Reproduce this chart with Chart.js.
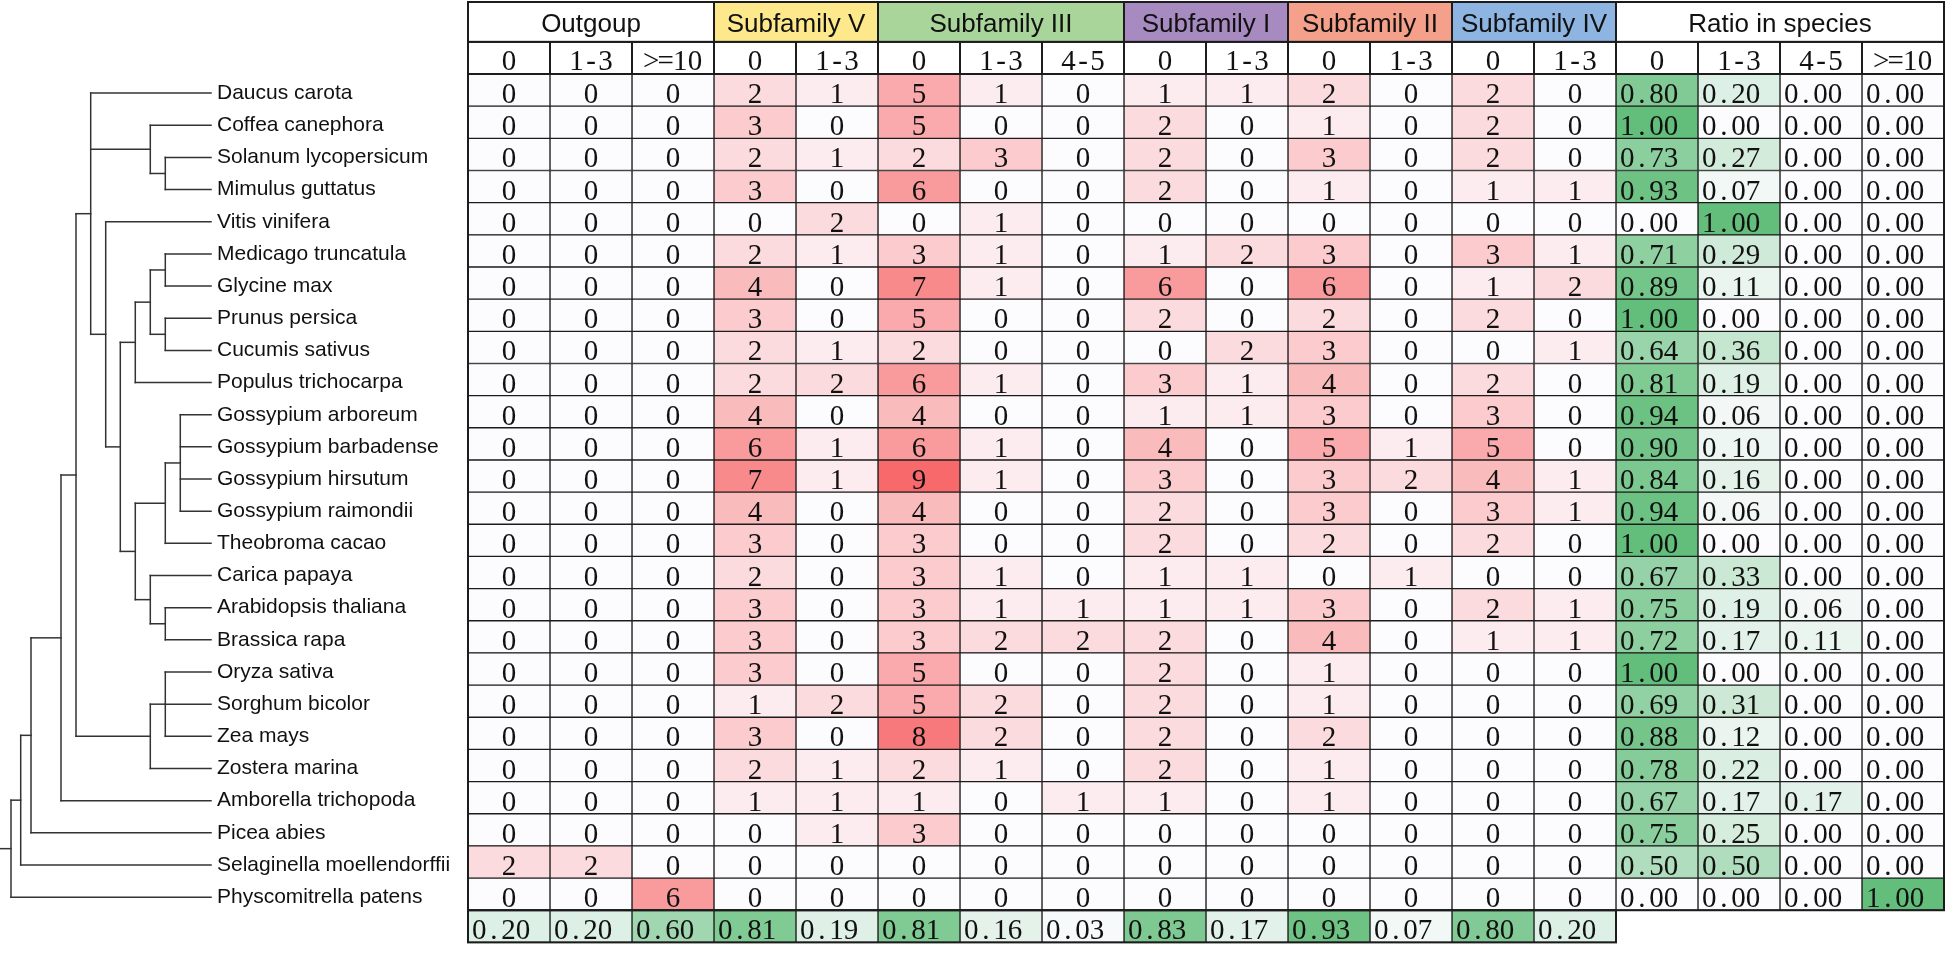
<!DOCTYPE html>
<html>
<head>
<meta charset="utf-8">
<style>
html,body{margin:0;padding:0;background:#ffffff;}
#wrap{position:relative;width:1946px;height:958px;}
</style>
<script src="https://cdn.jsdelivr.net/npm/chart.js@4.4.1/dist/chart.umd.min.js"></script>
</head>
<body>
<div id="wrap"><canvas id="chart"></canvas></div>
<script>
// ---------------- DATA ----------------
const speciesNames = [
  'Daucus carota','Coffea canephora','Solanum lycopersicum','Mimulus guttatus','Vitis vinifera',
  'Medicago truncatula','Glycine max','Prunus persica','Cucumis sativus','Populus trichocarpa',
  'Gossypium arboreum','Gossypium barbadense','Gossypium hirsutum','Gossypium raimondii','Theobroma cacao',
  'Carica papaya','Arabidopsis thaliana','Brassica rapa','Oryza sativa','Sorghum bicolor',
  'Zea mays','Zostera marina','Amborella trichopoda','Picea abies','Selaginella moellendorffii',
  'Physcomitrella patens'
];
const groupNames = ['Outgoup','Subfamily V','Subfamily III','Subfamily I','Subfamily II','Subfamily IV','Ratio in species'];
const groupSpans = [3,2,3,2,2,2,4];
const columnLabels = ['0','1-3','>=10','0','1-3','0','1-3','4-5','0','1-3','0','1-3','0','1-3','0','1-3','4-5','>=10'];

const outgroup_0    = [0,0,0,0,0,0,0,0,0,0,0,0,0,0,0,0,0,0,0,0,0,0,0,0,2,0];
const outgroup_1_3  = [0,0,0,0,0,0,0,0,0,0,0,0,0,0,0,0,0,0,0,0,0,0,0,0,2,0];
const outgroup_ge10 = [0,0,0,0,0,0,0,0,0,0,0,0,0,0,0,0,0,0,0,0,0,0,0,0,0,6];
const subV_0        = [2,3,2,3,0,2,4,3,2,2,4,6,7,4,3,2,3,3,3,1,3,2,1,0,0,0];
const subV_1_3      = [1,0,1,0,2,1,0,0,1,2,0,1,1,0,0,0,0,0,0,2,0,1,1,1,0,0];
const subIII_0      = [5,5,2,6,0,3,7,5,2,6,4,6,9,4,3,3,3,3,5,5,8,2,1,3,0,0];
const subIII_1_3    = [1,0,3,0,1,1,1,0,0,1,0,1,1,0,0,1,1,2,0,2,2,1,0,0,0,0];
const subIII_4_5    = [0,0,0,0,0,0,0,0,0,0,0,0,0,0,0,0,1,2,0,0,0,0,1,0,0,0];
const subI_0        = [1,2,2,2,0,1,6,2,0,3,1,4,3,2,2,1,1,2,2,2,2,2,1,0,0,0];
const subI_1_3      = [1,0,0,0,0,2,0,0,2,1,1,0,0,0,0,1,1,0,0,0,0,0,0,0,0,0];
const subII_0       = [2,1,3,1,0,3,6,2,3,4,3,5,3,3,2,0,3,4,1,1,2,1,1,0,0,0];
const subII_1_3     = [0,0,0,0,0,0,0,0,0,0,0,1,2,0,0,1,0,0,0,0,0,0,0,0,0,0];
const subIV_0       = [2,2,2,1,0,3,1,2,0,2,3,5,4,3,2,0,2,1,0,0,0,0,0,0,0,0];
const subIV_1_3     = [0,0,0,1,0,1,2,0,1,0,0,0,1,1,0,0,1,1,0,0,0,0,0,0,0,0];

const ratio_0    = [0.80,1.00,0.73,0.93,0.00,0.71,0.89,1.00,0.64,0.81,0.94,0.90,0.84,0.94,1.00,0.67,0.75,0.72,1.00,0.69,0.88,0.78,0.67,0.75,0.50,0.00];
const ratio_1_3  = [0.20,0.00,0.27,0.07,1.00,0.29,0.11,0.00,0.36,0.19,0.06,0.10,0.16,0.06,0.00,0.33,0.19,0.17,0.00,0.31,0.12,0.22,0.17,0.25,0.50,0.00];
const ratio_4_5  = [0,0,0,0,0,0,0,0,0,0,0,0,0,0,0,0,0.06,0.11,0,0,0,0,0.17,0,0,0];
const ratio_ge10 = [0,0,0,0,0,0,0,0,0,0,0,0,0,0,0,0,0,0,0,0,0,0,0,0,0,1.00];

const columnRatios = [0.20,0.20,0.60,0.81,0.19,0.81,0.16,0.03,0.83,0.17,0.93,0.07,0.80,0.20];

// tree topology: leaves are row indices, nodes are {lv: depth level, c: children}
const tree = {lv:0, c:[
  {lv:1, c:[
    {lv:2, c:[
      {lv:3, c:[
        {lv:4, c:[
          {lv:5, c:[0,
            {lv:9, c:[1, {lv:10, c:[2,3]}]},
            {lv:6, c:[4,
              {lv:7, c:[
                {lv:8, c:[ {lv:9, c:[ {lv:10, c:[5,6]}, {lv:10, c:[7,8]} ]}, 9 ]},
                {lv:8, c:[ {lv:10, c:[ {lv:11, c:[10,11,12,13]}, 14 ]}, {lv:9, c:[15, {lv:10, c:[16,17]}]} ]}
              ]}
            ]}
          ]},
          {lv:9, c:[ {lv:10, c:[18,19,20]}, 21 ]}
        ]},
        22
      ]},
      23
    ]},
    24
  ]},
  25
]};

// ---------------- LAYOUT / STYLE ----------------
const treeLevelX = [11, 20.7, 31, 61, 76, 90.7, 105.7, 120.3, 135.3, 150.3, 165.3, 180.3];
const treeLeafX = 211;
const treeYOffset = 3;
const groupColors = ['#FFFFFF','#FDE98C','#A9D59A','#A78AC0','#F4A08A','#8EB4E2','#FFFFFF'];
const lineColor = '#1c1c1c';
const serifFont = '29px "Liberation Serif", "DejaVu Serif", serif';
const sansHeadFont = '26px "Liberation Sans", Arial, sans-serif';
const monoSlot = 14.6;

const countColumns = [outgroup_0,outgroup_1_3,outgroup_ge10,subV_0,subV_1_3,subIII_0,subIII_1_3,subIII_4_5,
                      subI_0,subI_1_3,subII_0,subII_1_3,subIV_0,subIV_1_3];
const ratioColumns = [ratio_0,ratio_1_3,ratio_4_5,ratio_ge10];
const allColumns = countColumns.concat(ratioColumns);
const maxCount = Math.max(...countColumns.flat());

function lerpColor(c0, c1, t) {
  t = Math.max(0, Math.min(1, t));
  const r = Math.round(c0[0] + (c1[0]-c0[0])*t);
  const g = Math.round(c0[1] + (c1[1]-c0[1])*t);
  const b = Math.round(c0[2] + (c1[2]-c0[2])*t);
  return `rgb(${r},${g},${b})`;
}
const WHITE = [252,252,255], RED = [248,105,107], GREEN = [99,190,123];
function cellColor(kind, v) {
  if (kind === 'ratio') return lerpColor(WHITE, GREEN, v);
  return lerpColor(WHITE, RED, v / maxCount);
}

const nRows = speciesNames.length;
const datasets = allColumns.map((col, j) => {
  const isCount = j < countColumns.length;
  const data = [], values = [], kinds = [];
  for (let i = 0; i < nRows; i++) {
    data.push([j, j+1]); values.push(col[i]); kinds.push(isCount ? 'count' : 'ratio');
  }
  if (isCount) { data.push([j, j+1]); values.push(columnRatios[j]); kinds.push('ratio'); }
  else { data.push(null); values.push(null); kinds.push(null); }
  return {
    label: columnLabels[j],
    data, values, kinds,
    backgroundColor: (c) => {
      const ds = c.dataset; const i = c.dataIndex;
      if (ds.values[i] === null || ds.values[i] === undefined) return 'rgba(0,0,0,0)';
      return cellColor(ds.kinds[i], ds.values[i]);
    },
    borderColor: lineColor,
    borderWidth: 1,
    borderSkipped: false,
    barPercentage: 1,
    categoryPercentage: 1,
    grouped: false
  };
});

function drawMono(ctx, str, x, y, align) {
  const total = str.length * monoSlot;
  const start = align === 'center' ? x - total/2 : x;
  ctx.textAlign = 'center';
  for (let k = 0; k < str.length; k++) {
    ctx.fillText(str[k], start + (k + 0.5) * monoSlot, y);
  }
}

const tablePlugin = {
  id: 'tablePlugin',
  afterDatasetsDraw(chart) {
    const {ctx, chartArea, scales} = chart;
    const xs = scales.x, ys = scales.y;
    ctx.save();
    // cell values
    ctx.font = serifFont;
    ctx.textBaseline = 'alphabetic';
    ctx.fillStyle = '#111111';
    chart.data.datasets.forEach((ds, j) => {
      const meta = chart.getDatasetMeta(j);
      meta.data.forEach((bar, i) => {
        if (ds.data[i] === null) return;
        const v = ds.values[i];
        const p = bar.getProps(['x','base','y'], true);
        const left = Math.min(p.x, p.base), right = Math.max(p.x, p.base);
        if (ds.kinds[i] === 'ratio') drawMono(ctx, v.toFixed(2), left + 4, p.y + 13, 'left');
        else drawMono(ctx, String(v), (left + right) / 2, p.y + 13, 'center');
      });
    });
    // header rows
    const rowH = ys.getPixelForValue(1) - ys.getPixelForValue(0);
    const h2Top = chartArea.top - rowH;
    const h1Top = 2;
    ctx.lineWidth = 2;
    ctx.strokeStyle = lineColor;
    for (let j = 0; j < columnLabels.length; j++) {
      const xl = xs.getPixelForValue(j), xr = xs.getPixelForValue(j+1);
      ctx.fillStyle = '#FFFFFF';
      ctx.fillRect(xl, h2Top, xr - xl, rowH);
      ctx.strokeRect(xl, h2Top, xr - xl, rowH);
      ctx.fillStyle = '#111111';
      ctx.font = serifFont;
      drawMono(ctx, columnLabels[j], (xl + xr) / 2, h2Top + 28.5, 'center');
    }
    let c0 = 0;
    groupNames.forEach((g, k) => {
      const xl = xs.getPixelForValue(c0), xr = xs.getPixelForValue(c0 + groupSpans[k]);
      ctx.fillStyle = groupColors[k];
      ctx.fillRect(xl, h1Top, xr - xl, h2Top - h1Top);
      ctx.strokeRect(xl, h1Top, xr - xl, h2Top - h1Top);
      ctx.fillStyle = '#111111';
      ctx.font = sansHeadFont;
      ctx.textAlign = 'center';
      ctx.fillText(g, (xl + xr) / 2, h1Top + 30);
      c0 += groupSpans[k];
    });
    // outer borders
    const x0 = xs.getPixelForValue(0), xEnd = xs.getPixelForValue(columnLabels.length);
    const lastBottom = ys.getPixelForValue(nRows - 1) + rowH / 2;
    ctx.strokeRect(x0, h1Top, xEnd - x0, lastBottom - h1Top);
    const xc = xs.getPixelForValue(countColumns.length);
    ctx.strokeRect(x0, lastBottom, xc - x0, rowH);
    ctx.restore();
  },
  afterDraw(chart) {
    const {ctx, scales} = chart;
    const ys = scales.y;
    ctx.save();
    ctx.strokeStyle = '#333333';
    ctx.lineWidth = 1.5;
    ctx.lineCap = 'square';
    const line = (x1, y1, x2, y2) => { ctx.beginPath(); ctx.moveTo(x1, y1); ctx.lineTo(x2, y2); ctx.stroke(); };
    function walk(node) {
      if (typeof node === 'number') return {x: treeLeafX, y: ys.getPixelForValue(node) + treeYOffset};
      const nx = treeLevelX[node.lv];
      const kids = node.c.map(walk);
      kids.forEach(k => line(nx, k.y, k.x, k.y));
      const yTop = kids[0].y, yBot = kids[kids.length - 1].y;
      line(nx, yTop, nx, yBot);
      return {x: nx, y: (yTop + yBot) / 2};
    }
    const root = walk(tree);
    line(0, root.y, root.x, root.y);
    ctx.restore();
  }
};

new Chart(document.getElementById('chart'), {
  type: 'bar',
  data: { labels: speciesNames.concat(['']), datasets },
  options: {
    indexAxis: 'y',
    responsive: true,
    maintainAspectRatio: false,
    animation: false,
    layout: { padding: { left: 217, top: 74, right: 2, bottom: 3 } },
    plugins: { legend: { display: false }, tooltip: { enabled: false } },
    scales: {
      x: { type: 'linear', min: 0, max: columnLabels.length, display: false },
      y: {
        type: 'category',
        offset: true,
        grid: { display: false },
        border: { display: false },
        afterFit: (scale) => { scale.width = 251; },
        ticks: {
          autoSkip: false,
          crossAlign: 'far',
          labelOffset: 3,
          color: '#111111',
          font: { family: '"Liberation Sans", Arial, sans-serif', size: 21 }
        }
      }
    }
  },
  plugins: [tablePlugin]
});
</script>
</body>
</html>
